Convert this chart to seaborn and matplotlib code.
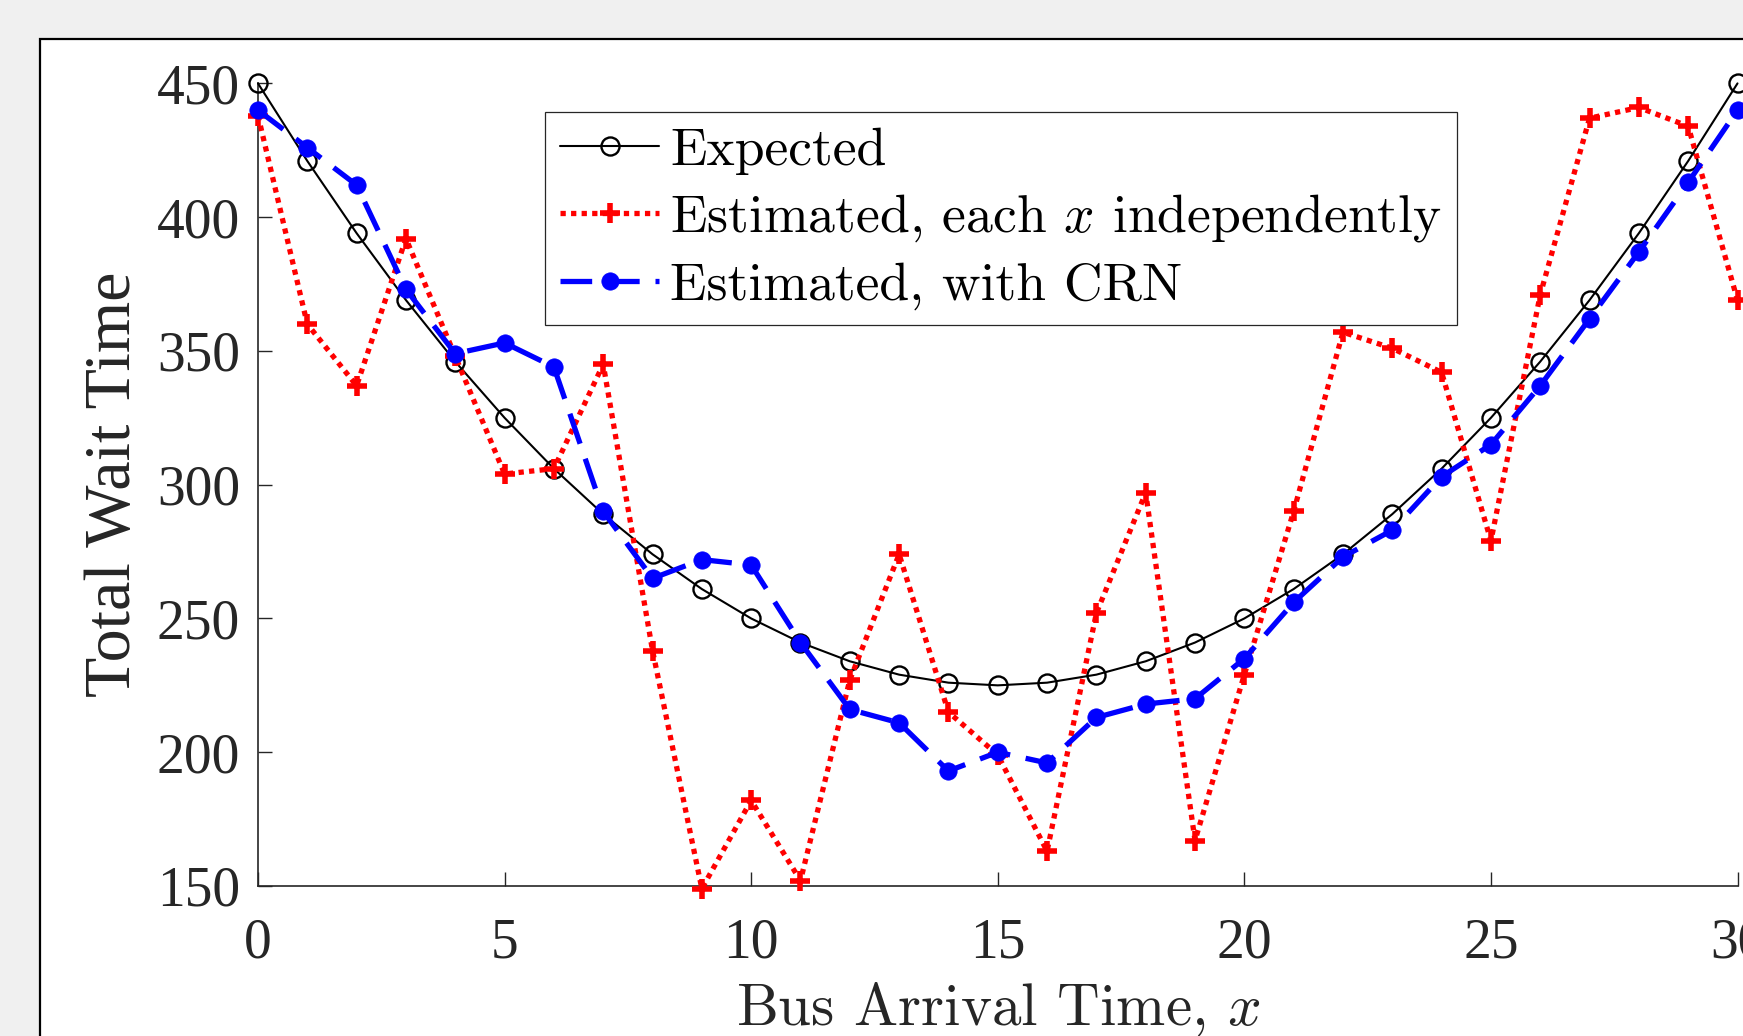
import numpy as np
import pandas as pd
import matplotlib
matplotlib.use("Agg")
import matplotlib.pyplot as plt
from matplotlib.patches import Rectangle
from matplotlib.font_manager import FontProperties
import seaborn as sns

# ---------------- data ----------------
x_vals = list(range(31))
expected = [450, 421, 394, 369, 346, 325, 306, 289, 274, 261, 250, 241, 234, 229, 226, 225,
            226, 229, 234, 241, 250, 261, 274, 289, 306, 325, 346, 369, 394, 421, 450]
est_indep = [438, 360, 337, 392, 348, 304, 306, 345, 238, 149, 182, 152, 227, 274, 215, 199,
             163, 252, 297, 167, 229, 290, 357, 351, 342, 279, 371, 437, 441, 434, 369]
est_crn = [440, 426, 412, 373, 349, 353, 344, 290, 265, 272, 270, 241, 216, 211, 193, 200,
           196, 213, 218, 220, 235, 256, 273, 283, 303, 315, 337, 362, 387, 413, 440]
x_ticks = [0, 5, 10, 15, 20, 25, 30]
y_ticks = [150, 200, 250, 300, 350, 400, 450]
series_labels = ["Expected", r"Estimated, each $x$ independently", "Estimated, with CRN"]
x_label = r"Bus Arrival Time, $x$"
y_label = "Total Wait Time"

# ---------------- style ----------------
sns.set_theme(style="white")
plt.rcParams["mathtext.fontset"] = "cm"
plt.rcParams["axes.unicode_minus"] = False

W, H = 1743, 1036
fig = plt.figure(figsize=(W / 100, H / 100), dpi=100, facecolor="#f0f0f0")

# white figure panel with black border (cropped at right/bottom)
panel = Rectangle((40 / W, -0.2), 1.2, 0.2 + (H - 39) / H, transform=fig.transFigure,
                  facecolor="white", edgecolor="black", linewidth=1.6, zorder=-10)
fig.add_artist(panel)

ax = fig.add_axes([258 / W, (H - 886) / H, (1737.5 - 258) / W, (886 - 83.4) / H])
ax.set_facecolor("white")

df = pd.DataFrame({"x": x_vals, "expected": expected, "indep": est_indep, "crn": est_crn})

sns.lineplot(data=df, x="x", y="expected", ax=ax, sort=False, errorbar=None,
             color="black", linewidth=1.5, marker="o", markersize=13,
             markerfacecolor="none", markeredgecolor="black", markeredgewidth=1.7,
             label=series_labels[0], clip_on=False, zorder=3)
sns.lineplot(data=df, x="x", y="indep", ax=ax, sort=False, errorbar=None,
             color="red", linewidth=3.8, linestyle=(0, (1, 1)), dash_capstyle="butt",
             marker="+", markersize=14, markeredgecolor="red", markeredgewidth=4.0,
             label=series_labels[1], clip_on=False, zorder=4)
sns.lineplot(data=df, x="x", y="crn", ax=ax, sort=False, errorbar=None,
             color="blue", linewidth=3.8, linestyle=(0, (6, 3)), dash_capstyle="butt",
             marker="o", markersize=12.5, markerfacecolor="blue", markeredgecolor="blue",
             markeredgewidth=0.5, label=series_labels[2], clip_on=False, zorder=5)

ax.set_xlim(0, 30)
ax.set_ylim(150, 450)
ax.set_xticks(x_ticks)
ax.set_yticks(y_ticks)
tick_font = "Liberation Serif"
ax.set_xticklabels([str(t) for t in x_ticks], fontfamily=tick_font, fontsize=40, color="#262626")
ax.set_yticklabels([str(t) for t in y_ticks], fontfamily=tick_font, fontsize=40, color="#262626")
ax.tick_params(axis="x", direction="in", length=10, width=1.0, color="#262626", pad=23,
               bottom=True, top=False)
ax.tick_params(axis="y", direction="in", length=10, width=1.0, color="#262626", pad=13,
               left=True, right=False)
for s in ["top", "right"]:
    ax.spines[s].set_visible(False)
for s in ["left", "bottom"]:
    ax.spines[s].set_color("#262626")
    ax.spines[s].set_linewidth(1.2)

ax.set_xlabel(x_label, fontfamily="cmr10", fontsize=42.5, color="#262626")
ax.set_ylabel(y_label, fontfamily=tick_font, fontsize=47.5, color="#262626")
ax.xaxis.set_label_coords(0.5, (886 - 1025) / (886 - 83.4))
ax.xaxis.label.set_verticalalignment("baseline")
ax.yaxis.set_label_coords((130 - 258) / (1737.5 - 258), 0.5)
ax.yaxis.label.set_verticalalignment("baseline")

leg = ax.legend(loc="upper left", bbox_to_anchor=(545 / W, (H - 112) / H),
                bbox_transform=fig.transFigure, borderaxespad=0,
                prop=FontProperties(family="cmr10", size=38.6),
                handlelength=1.85, handletextpad=0.2, borderpad=0.28, labelspacing=0.33,
                fancybox=False, framealpha=1, edgecolor="#262626", facecolor="white")
leg.get_frame().set_linewidth(0.9)
for t in leg.get_texts():
    t.set_color("black")

fig.savefig("out.png", dpi=100, facecolor=fig.get_facecolor())
